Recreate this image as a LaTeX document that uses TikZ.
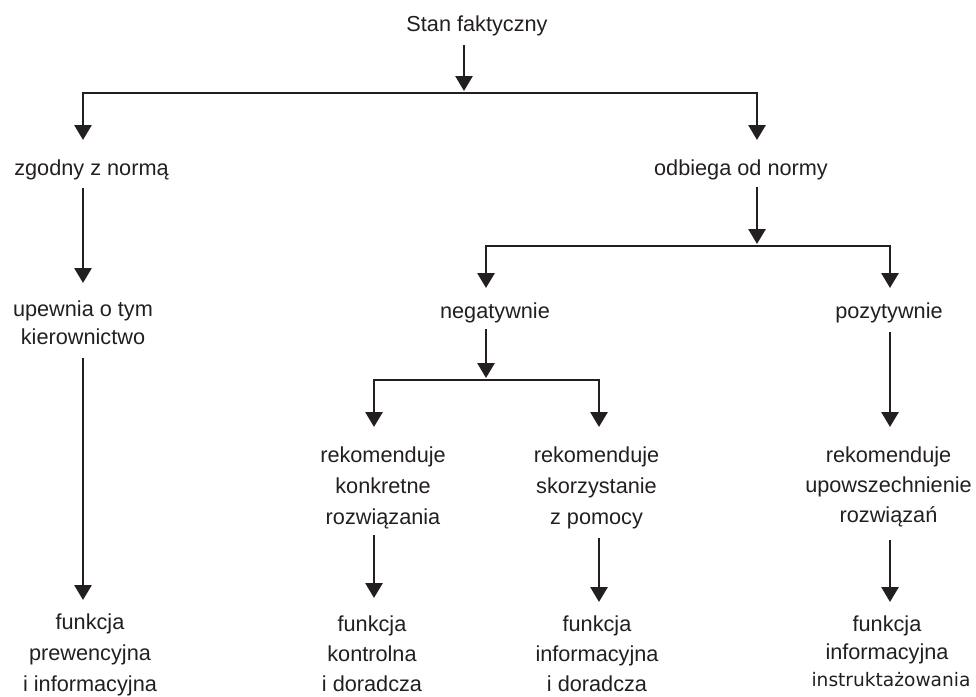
\documentclass[tikz,border=0pt]{standalone}
\usepackage{fontspec}
\setmainfont{Liberation Sans}
\newfontfamily\widefont{DejaVu Sans}
\usetikzlibrary{arrows.meta,calc}
\definecolor{ink}{HTML}{231F20}
% zero-width rule that fixes the height of the first line of every label
\newcommand\topstrut{\rule{0pt}{16pt}}
\begin{document}
\begin{tikzpicture}[x=1pt,y=-1pt,
  lbl/.style={anchor=north, inner sep=0pt, align=center, text=ink,
    font=\fontsize{21.7pt}{31pt}\selectfont, execute at begin node=\topstrut},
  tight/.style={font=\fontsize{21.7pt}{#1}\selectfont},
  arr/.style={draw=ink, line width=2.8pt, -{Triangle[length=15pt,width=17pt]}},
  fork/.style={draw=ink, line width=2.8pt, line join=miter,
    {Triangle[length=15pt,width=17pt]}-{Triangle[length=15pt,width=17pt]}}]

\useasboundingbox (0,0) rectangle (976,696);

% column positions and fork junctions
\coordinate (xL) at (83,0);
\coordinate (xA) at (374,0);
\coordinate (xB) at (599,0);
\coordinate (xP) at (890,0);
\coordinate (c1) at (464,93);
\coordinate (c2) at (757,246);
\coordinate (c3) at (486,380);

% labels
\node[lbl] (stan) at (477,15) {Stan faktyczny};
\node[lbl] (zgodny) at (91.5,159) {zgodny z normą};
\node[lbl] (odbiega) at (741,159) {odbiega od normy};
\node[lbl, tight=28pt] (upewnia) at (83,301) {upewnia o tym\\kierownictwo};
\node[lbl] (neg) at (495,302) {negatywnie};
\node[lbl] (poz) at (889,302) {pozytywnie};
\node[lbl] (rek1) at (383,447) {rekomenduje\\konkretne\\rozwiązania};
\node[lbl] (rek2) at (596.5,447) {rekomenduje\\skorzystanie\\z pomocy};
\node[lbl, tight=30pt] (rek3) at (888.5,447) {rekomenduje\\upowszechnienie\\rozwiązań};
\node[lbl] (fun1) at (90,614) {funkcja\\prewencyjna\\i informacyjna};
\node[lbl, tight=30pt] (fun2) at (372,616) {funkcja\\kontrolna\\i doradcza};
\node[lbl, tight=30pt] (fun3) at (597,616) {funkcja\\informacyjna\\i doradcza};
\node[lbl, tight=27.5pt] (fun4) at (887,616) {funkcja\\informacyjna\\{\widefont\fontsize{18.6pt}{27.5pt}\selectfont\kern8pt instruktażowania}};

% top level split
\draw[arr] ($(stan.south -| c1)+(0,9.5)$) -- ($(c1)+(0,-2)$);
\draw[fork] ($(zgodny.north -| xL)+(0,-19)$) |- (c1) -| ($(odbiega.north -| c2)+(0,-19)$);

% left branch
\draw[arr] ($(zgodny.south -| xL)+(0,8)$) -- ($(upewnia.north -| xL)+(0,-18)$);
\draw[arr] ($(upewnia.south -| xL)+(0,13)$) -- ($(fun1.north -| xL)+(0,-14)$);

% right branch
\draw[arr] ($(odbiega.south -| c2)+(0,7)$) -- ($(c2)+(0,-2)$);
\draw[fork] ($(neg.north -| c3)+(0,-14)$) |- (c2) -| ($(poz.north -| xP)+(0,-14)$);

% negative deviation
\draw[arr] ($(neg.south -| c3)+(0,6.5)$) -- ($(c3)+(0,-2)$);
\draw[fork] ($(rek1.north -| xA)+(0,-20)$) |- (c3) -| ($(rek2.north -| xB)+(0,-20)$);
\draw[arr] ($(rek1.south -| xA)+(0,5.5)$) -- ($(fun2.north -| xA)+(0,-18)$);
\draw[arr] ($(rek2.south -| xB)+(0,8.5)$) -- ($(fun3.north -| xB)+(0,-14)$);

% positive deviation
\draw[arr] ($(poz.south -| xP)+(0,9.5)$) -- ($(rek3.north -| xP)+(0,-20)$);
\draw[arr] ($(rek3.south -| xP)+(0,12.5)$) -- ($(fun4.north -| xP)+(0,-14)$);

\end{tikzpicture}
\end{document}
